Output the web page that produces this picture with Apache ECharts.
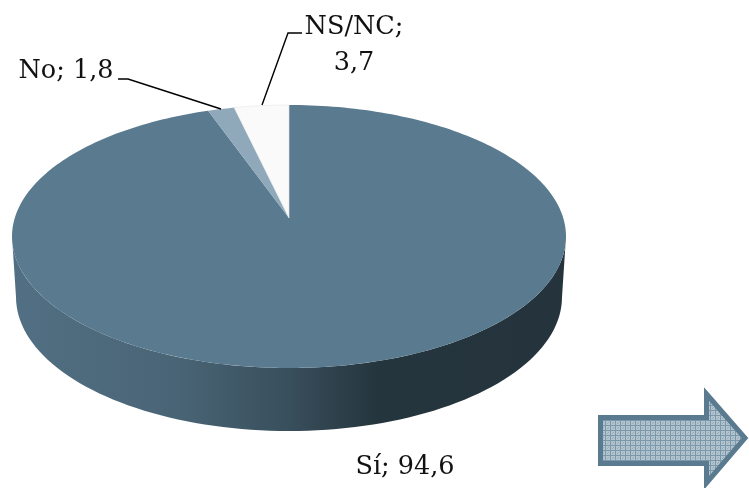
<!DOCTYPE html>
<html><head><meta charset="utf-8">
<style>html,body{margin:0;padding:0;background:#fff}#c{width:749px;height:488px}</style>
<script src="https://cdn.jsdelivr.net/npm/echarts@6/dist/echarts.min.js"></script>
</head><body><div id="c"></div>
<script>
const categories = ['Sí', 'No', 'NS/NC'];
const values = [94.6, 1.8, 3.7];
const sliceColors = ['#5a7b8f', '#8fa8ba', '#fafafa'];

const total = values.reduce((a, b) => a + b, 0);
const topRim = {cx: 289, cy: 236.5, rx: 277, ry: 131.5, ax: 289, ay: 218};
const bottomRim = {cx: 289, cy: 297, rx: 273, ry: 134};
const foreshorten = 0.858; // perspective narrows the far (top) side of the disc

function rim(e, t) { return [e.cx + e.rx * Math.sin(t), e.cy - e.ry * Math.cos(t)]; }
// share-of-total -> angle on the rim, clockwise from 12 o'clock, with the far side foreshortened
function angleAt(share) {
  return 2 * Math.PI - (1 - share) * 2 * Math.PI * foreshorten;
}
const labelCfg = [
  {x: 405, y: 467, align: 'center'},
  {x: 66, y: 71, align: 'center', leader: [[118, 79], [128, 79], [221, 109]]},
  {multi: true, x: 354, y: 27, dy: 36, align: 'center', leader: [[302, 33], [288, 33], [262, 105]]}
];
const font = '25.5px "DejaVu Serif"';
const fmt = v => String(v).replace('.', ',');

function renderItem(params, api) {
  const i = params.dataIndex;
  const v = api.value(0);
  let before = 0;
  for (let k = 0; k < i; k++) before += values[k];
  const s0 = before / total, s1 = (before + v) / total;
  const a0 = i === 0 ? 0 : angleAt(s0), a1 = angleAt(s1);
  const children = [];

  if (i === 0) {
    const pts = [];
    for (let d = 90; d <= 270; d += 2) pts.push(rim(topRim, d * Math.PI / 180));
    for (let d = 270; d >= 90; d -= 2) pts.push(rim(bottomRim, d * Math.PI / 180));
    children.push({
      type: 'polygon', shape: {points: pts},
      style: {fill: {type: 'linear', x: 12, y: 0, x2: 566, y2: 0, global: true, colorStops: [
        {offset: 0, color: '#527084'}, {offset: 0.3, color: '#496475'},
        {offset: 0.5, color: '#384f5c'}, {offset: 0.66, color: '#25353d'}, {offset: 1, color: '#25343c'}
      ]}}
    });
  }
  const n = Math.max(2, Math.ceil((a1 - a0) / 0.02));
  const pts = [[topRim.ax, topRim.ay]];
  for (let k = 0; k <= n; k++) pts.push(rim(topRim, a0 + (a1 - a0) * k / n));
  children.push({type: 'polygon', shape: {points: pts},
    style: {fill: sliceColors[i], stroke: i === 2 ? '#e3e6e8' : null, lineWidth: i === 2 ? 0.6 : 0}});

  const c = labelCfg[i];
  const tx = {fill: '#111', font, textAlign: c.align, textVerticalAlign: 'middle'};
  if (c.multi) {
    children.push({type: 'text', style: {...tx, text: categories[i] + ';', x: c.x, y: c.y}});
    children.push({type: 'text', style: {...tx, text: fmt(v), x: c.x, y: c.y + c.dy}});
  } else {
    children.push({type: 'text', style: {...tx, text: categories[i] + '; ' + fmt(v), x: c.x, y: c.y}});
  }
  if (c.leader) children.push({type: 'polyline', shape: {points: c.leader},
    style: {fill: null, stroke: '#000', lineWidth: 1.4}});
  return {type: 'group', children};
}

// woven pattern for the arrow
const pat = document.createElement('canvas');
pat.width = pat.height = 5;
const g = pat.getContext('2d');
g.fillStyle = '#b3c4cf'; g.fillRect(0, 0, 5, 5);
g.fillStyle = '#7b98aa'; g.fillRect(0, 0, 5, 1); g.fillRect(0, 0, 1, 5);
g.fillStyle = '#94adbc'; g.fillRect(2, 3, 1, 1); g.fillRect(3, 2, 1, 1);

const chart = echarts.init(document.getElementById('c'), null, {renderer: 'canvas'});
chart.setOption({
  animation: false,
  backgroundColor: '#fff',
  series: [{
    type: 'custom', coordinateSystem: 'none', silent: true,
    data: values.map((v, i) => ({name: categories[i], value: [v]})),
    renderItem
  }],
  graphic: [{
    type: 'polygon', silent: true,
    shape: {points: [[600.5, 417.5], [706.5, 417.5], [706.5, 394], [745, 438], [706.5, 483], [706.5, 463.5], [600.5, 463.5]]},
    style: {fill: {image: pat, repeat: 'repeat'}, stroke: '#5a7b8f', lineWidth: 5, lineJoin: 'miter'}
  }]
});
</script></body></html>
